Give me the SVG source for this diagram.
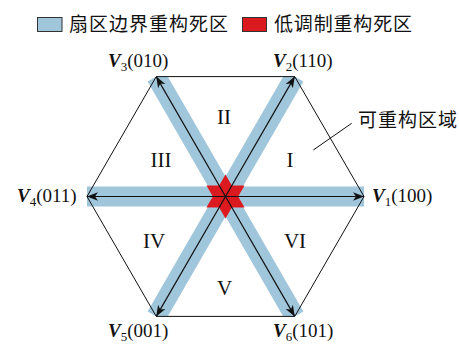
<svg xmlns="http://www.w3.org/2000/svg" width="459" height="345" viewBox="0 0 459 345">
<style>
.cjk{font-family:"Noto Sans CJK SC","Noto Sans CJK JP",sans-serif;font-size:19px;fill:#111}
.band{stroke:#a0c6dc;stroke-width:20;fill:none;stroke-linecap:butt}
.edge{stroke:#111;stroke-width:1;fill:none}
.arr{stroke:#111;stroke-width:1.2;fill:none;marker-end:url(#ah)}
.rn{font-family:"Liberation Serif","Times New Roman",serif;font-size:21px;fill:#111;text-anchor:middle}
.vl{font-family:"Liberation Serif","Times New Roman",serif;font-size:19px;fill:#111}
.vv{font-weight:bold;font-style:italic}
</style>
<defs>
<marker id="ah" markerWidth="12" markerHeight="10" refX="11" refY="5" orient="auto" markerUnits="userSpaceOnUse">
<path d="M0,0.8 L11,5 L0,9.2 L3,5 Z" fill="#111"/>
</marker>
<clipPath id="clip"><rect x="0" y="76.6" width="459" height="239.8"/></clipPath>
</defs>
<g id="legend">
<rect x="37.5" y="17.5" width="24.5" height="14" fill="#a0c6dc" stroke="#333" stroke-width="1"/>
<text class="cjk" x="69" y="31" textLength="159">扇区边界重构死区</text>
<rect x="242.5" y="17.5" width="24" height="14" fill="#da1a1f" stroke="#333" stroke-width="1"/>
<text class="cjk" x="274" y="31" textLength="138">低调制重构死区</text>
</g>
<g id="bands" clip-path="url(#clip)">
<line class="band" x1="87" y1="196.5" x2="364" y2="196.5"/>
<line class="band" x1="156.25" y1="76.6" x2="294.75" y2="316.4"/>
<line class="band" x1="294.75" y1="76.6" x2="156.25" y2="316.4"/>
</g>
<g id="star">
<polygon fill="#da1a1f" points="225.5,174.5 231.85,185.5 244.55,185.5 238.2,196.5 244.55,207.5 231.85,207.5 225.5,218.5 219.15,207.5 206.45,207.5 212.8,196.5 206.45,185.5 219.15,185.5"/>
</g>
<g id="hexagon">
<polygon class="edge" points="364,196.5 294.75,76.6 156.25,76.6 87,196.5 156.25,316.4 294.75,316.4"/>
</g>
<g id="connectors">
<line class="arr" x1="225.5" y1="196.5" x2="364" y2="196.5"/>
<line class="arr" x1="225.5" y1="196.5" x2="294.75" y2="76.6"/>
<line class="arr" x1="225.5" y1="196.5" x2="156.25" y2="76.6"/>
<line class="arr" x1="225.5" y1="196.5" x2="87" y2="196.5"/>
<line class="arr" x1="225.5" y1="196.5" x2="156.25" y2="316.4"/>
<line class="arr" x1="225.5" y1="196.5" x2="294.75" y2="316.4"/>
<line class="edge" x1="351.7" y1="123.3" x2="313.3" y2="150"/>
</g>
<g id="sectors">
<text class="rn" x="290" y="167">I</text>
<text class="rn" x="224" y="124">II</text>
<text class="rn" x="161" y="167">III</text>
<text class="rn" x="154" y="248">IV</text>
<text class="rn" x="224.5" y="295">V</text>
<text class="rn" x="295" y="248">VI</text>
</g>
<g id="label-region"><text class="cjk" x="358" y="127" textLength="99">可重构区域</text></g>
<g id="v1"><text class="vl" x="372" y="202"><tspan class="vv">V</tspan><tspan font-size="13" dy="4">1</tspan><tspan dy="-4">(100)</tspan></text></g>
<g id="v2"><text class="vl" x="273" y="67"><tspan class="vv">V</tspan><tspan font-size="13" dy="4">2</tspan><tspan dy="-4">(110)</tspan></text></g>
<g id="v3"><text class="vl" x="108" y="67"><tspan class="vv">V</tspan><tspan font-size="13" dy="4">3</tspan><tspan dy="-4">(010)</tspan></text></g>
<g id="v4"><text class="vl" x="17" y="202"><tspan class="vv">V</tspan><tspan font-size="13" dy="4">4</tspan><tspan dy="-4">(011)</tspan></text></g>
<g id="v5"><text class="vl" x="108" y="337"><tspan class="vv">V</tspan><tspan font-size="13" dy="3.5">5</tspan><tspan dy="-3.5">(001)</tspan></text></g>
<g id="v6"><text class="vl" x="273" y="337"><tspan class="vv">V</tspan><tspan font-size="13" dy="3.5">6</tspan><tspan dy="-3.5">(101)</tspan></text></g>
</svg>
